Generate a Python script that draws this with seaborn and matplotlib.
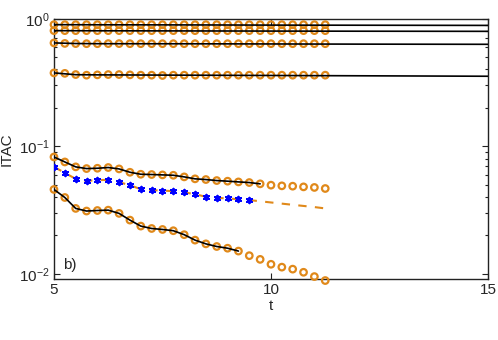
import numpy as np
import pandas as pd
import seaborn as sns
import matplotlib.pyplot as plt

# time grid of the circle markers
t_circ = [5.0, 5.25, 5.5, 5.75, 6.0, 6.25, 6.5, 6.75, 7.0, 7.25, 7.5, 7.75, 8.0,
          8.25, 8.5, 8.75, 9.0, 9.25, 9.5, 9.75, 10.0, 10.25, 10.5, 10.75, 11.0, 11.25]

# upper four curves (circles)
top1 = [0.898] * 26
top2 = [0.806] * 26
top3 = [0.646, 0.640, 0.638, 0.637, 0.637, 0.638, 0.638, 0.637, 0.637, 0.637, 0.637, 0.637, 0.637,
        0.637, 0.637, 0.637, 0.637, 0.637, 0.637, 0.637, 0.637, 0.637, 0.637, 0.637, 0.637, 0.637]
top4 = [0.376, 0.373, 0.365, 0.361, 0.363, 0.365, 0.365, 0.363, 0.361, 0.361, 0.359, 0.361, 0.361,
        0.361, 0.361, 0.361, 0.361, 0.361, 0.361, 0.361, 0.361, 0.361, 0.361, 0.361, 0.361, 0.361]

# black reference lines for the upper curves (to t = 15)
t_top_line = [5.0, 5.5, 6.0, 8.0, 10.0, 12.0, 15.0]
top1_line = [0.898, 0.897, 0.896, 0.894, 0.891, 0.889, 0.886]
top2_line = [0.806, 0.805, 0.804, 0.802, 0.800, 0.798, 0.796]
top3_line = [0.646, 0.639, 0.637, 0.636, 0.634, 0.632, 0.630]
top4_line = [0.376, 0.364, 0.363, 0.361, 0.359, 0.357, 0.354]

# lower curve A (circles)
low_a = [0.0825, 0.0754, 0.0690, 0.0669, 0.0673, 0.0682, 0.0665, 0.0626, 0.0604, 0.0601,
         0.0597, 0.0593, 0.0576, 0.0556, 0.0549, 0.0539, 0.0533, 0.0526, 0.0520, 0.0508,
         0.0496, 0.0490, 0.0487, 0.0481, 0.0476, 0.0467]
# lower curve C (circles)
low_c = [0.0459, 0.0397, 0.0326, 0.0311, 0.0314, 0.0316, 0.0298, 0.0264, 0.0237, 0.0227,
         0.0223, 0.0218, 0.0203, 0.0184, 0.0172, 0.0164, 0.0159, 0.0151, 0.0139, 0.0130,
         0.0119, 0.0113, 0.0109, 0.0103, 0.00953, 0.00887]

# blue asterisks (t = 5 .. 9.5)
t_star = t_circ[:19]
star = [0.0690, 0.0619, 0.0556, 0.0536, 0.0543, 0.0546, 0.0523, 0.0496, 0.0461, 0.0453,
        0.0450, 0.0445, 0.0435, 0.0422, 0.0402, 0.0395, 0.0390, 0.0385, 0.0379]
# orange dashed continuation
t_dash_tail = [10.0, 10.5, 11.0, 11.25]
dash_tail = [0.0363, 0.0348, 0.0334, 0.0326]

orange = '#E0891A'

sns.set_style('ticks')
plt.rcParams['font.family'] = ['Liberation Sans', 'DejaVu Sans']
plt.rcParams['mathtext.default'] = 'regular'

fig = plt.figure(figsize=(4.98, 3.40), dpi=100)
ax = fig.add_axes([0.1084, 0.179, 0.8715, 0.766])

# orange dashed line under the asterisks
dash = pd.DataFrame({'t': t_star + t_dash_tail, 'v': star + dash_tail})
sns.lineplot(data=dash, x='t', y='v', ax=ax, color=orange, lw=1.5,
             linestyle=(0, (4, 4)), estimator=None, sort=False, zorder=2)

# open circles
for vals in [top1, top2, top3, top4, low_a, low_c]:
    sns.scatterplot(x=t_circ, y=vals, ax=ax, marker='o', s=22, facecolors='none',
                    edgecolor=orange, linewidth=1.6, zorder=3, clip_on=False)

# black lines
for tt, vals in [(t_top_line, top1_line), (t_top_line, top2_line),
                 (t_top_line, top3_line), (t_top_line, top4_line),
                 (t_circ[:20], low_a[:20]), (t_circ[:18], low_c[:18])]:
    sns.lineplot(x=tt, y=vals, ax=ax, color='black', lw=1.2,
                 estimator=None, sort=False, zorder=4)

# blue asterisks
sns.scatterplot(x=t_star, y=star, ax=ax, marker=(6, 2, 0), s=16,
                color='blue', edgecolor='blue', linewidth=1.4, zorder=5)

ax.set_yscale('log')
ax.set_xlim(5, 15)
ax.set_ylim(0.0091, 1.0)
ax.set_xticks([5, 10, 15])
ax.set_xticklabels(['5', '10', '15'])
ax.set_yticks([0.01, 0.1, 1.0])
ax.set_yticklabels([r'$10^{-2}$', r'$10^{-1}$', r'$10^{0}$'])

ax.tick_params(which='both', direction='in', top=True, right=True, labelsize=11,
               width=0.8, color='#222222')
ax.tick_params(which='major', length=4.5, pad=3)
ax.tick_params(which='minor', length=2.5)
for s in ax.spines.values():
    s.set_linewidth(1.0)
    s.set_color('#222222')

ax.set_xlabel('t', fontsize=11, labelpad=1)
ax.set_ylabel('ITAC', fontsize=11)
ax.yaxis.set_label_coords(-0.092, 0.5)
ax.text(0.021, 0.04, 'b)', transform=ax.transAxes, fontsize=11)

fig.savefig('out.png', dpi=100)
